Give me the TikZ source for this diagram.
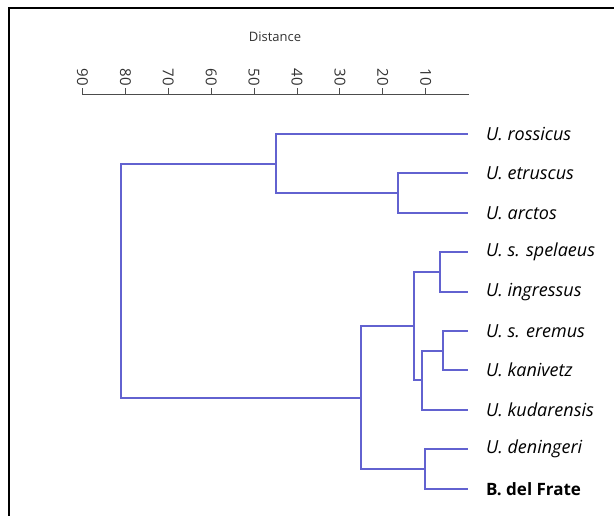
\documentclass[tikz,border=0pt]{standalone}
\usepackage{fontspec}
\setmainfont{Open Sans}
\usetikzlibrary{calc}
\definecolor{treeBlue}{RGB}{98,98,208}
\tikzset{
	branch/.style={
		draw=treeBlue
		,line width=2pt
	},
	leaf/.style={
		anchor=west
		,inner xsep=18pt
		,inner ysep=0pt
		,font=\fontsize{18}{21}\selectfont\itshape
	},
	tickLabel/.style={
		rotate=-90
		,anchor=east
		,inner sep=1pt
		,font=\fontsize{15}{17}\selectfont
		,text=black!80
	},
}

\begin{document}
\begin{tikzpicture}[x=1pt, y=-1pt]
\useasboundingbox (0,0) rectangle (614,516);
\draw[line width=1.3pt] (9,516) -- (9,8) -- (614,8);
% axis
\node[font=\fontsize{13}{15}\selectfont, text=black!80] (dist) at (275,37) {Distance};
\draw[line width=1pt, black!70] (82.5,95) -- (468.6,95);
\foreach \d in {10,20,...,90}{
	\draw[line width=1pt, black!70] ({468.6-4.29*\d},95) -- ({468.6-4.29*\d},88);
	\node[tickLabel] (t\d) at ({468.6-4.29*\d},87) {\d};
}
% leaves
\node[leaf] (rossicus) at (468,134) {U. rossicus};
\node[leaf] (etruscus) at (468,173) {U. etruscus};
\node[leaf] (arctos) at (468,213) {U. arctos};
\node[leaf] (spelaeus) at (468,252) {U. s. spelaeus};
\node[leaf] (ingressus) at (468,292) {U. ingressus};
\node[leaf] (eremus) at (468,331) {U. s. eremus};
\node[leaf] (kanivetz) at (468,370) {U. kanivetz};
\node[leaf] (kudarensis) at (468,410) {U. kudarensis};
\node[leaf] (deningeri) at (468,449) {U. deningeri};
\node[leaf, font=\fontsize{17}{20}\selectfont\bfseries] (frate) at (468,489) {B. del Frate};
% joins
\coordinate (root) at (121,281);
\coordinate (jRos) at (276,164);
\coordinate (jEtr) at (398,193);
\coordinate (jSpe) at (440,272);
\coordinate (jEre) at (443,351);
\coordinate (jKud) at (422,380);
\coordinate (jCav) at (414,326);
\coordinate (jDen) at (425,469);
\coordinate (jAll) at (361,398);
% tree
\draw[branch] (root) |- (jRos);
\draw[branch] (root) |- (jAll);
\draw[branch] (jRos) |- (rossicus.west);
\draw[branch] (jRos) |- (jEtr);
\draw[branch] (jEtr) |- (etruscus.west);
\draw[branch] (jEtr) |- (arctos.west);
\draw[branch] (jAll) |- (jCav);
\draw[branch] (jAll) |- (jDen);
\draw[branch] (jCav) |- (jSpe);
\draw[branch] (jCav) |- (jKud);
\draw[branch] (jSpe) |- (spelaeus.west);
\draw[branch] (jSpe) |- (ingressus.west);
\draw[branch] (jKud) |- (jEre);
\draw[branch] (jKud) |- (kudarensis.west);
\draw[branch] (jEre) |- (eremus.west);
\draw[branch] (jEre) |- (kanivetz.west);
\draw[branch] (jDen) |- (deningeri.west);
\draw[branch] (jDen) |- (frate.west);
\end{tikzpicture}
\end{document}
